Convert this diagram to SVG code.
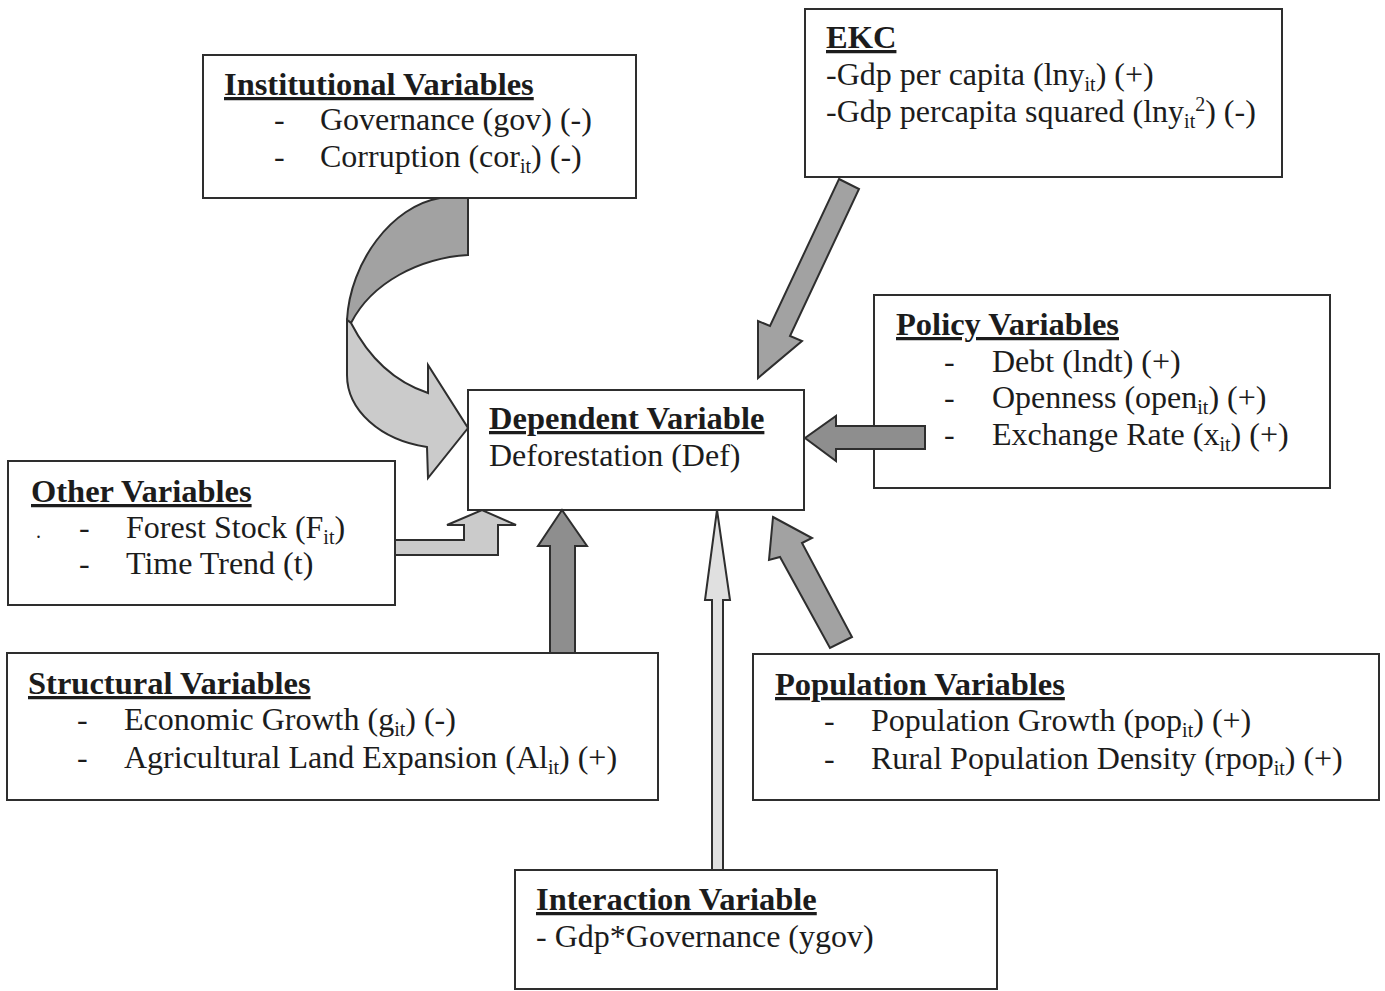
<svg xmlns="http://www.w3.org/2000/svg" width="1385" height="991" viewBox="0 0 1385 991">
<style>
.box{fill:#fff;stroke:#2e2e2e;stroke-width:2}
text{font-family:"Liberation Serif","Times New Roman",serif;font-size:32px;fill:#1c1c1c}
.t{font-weight:bold;text-decoration:underline;font-size:32.5px}
.s{font-size:20px}
.arr{stroke:#2e2e2e;stroke-width:2;stroke-linejoin:miter}
.dk{fill:#8e8e8e}
.md{fill:#a2a2a2}
.lt{fill:#cbcbcb}
.vl{fill:#e0e0e0}
</style>
<rect width="1385" height="991" fill="#fff"/>
<g id="institutional">
<rect class="box" x="203" y="55" width="433" height="143"/>
<text class="t" x="224" y="95">Institutional Variables</text>
<text x="274" y="130">-</text><text x="320" y="130">Governance (gov) (-)</text>
<text x="274" y="167">-</text><text x="320" y="167">Corruption (cor<tspan class="s" dy="6">it</tspan><tspan dy="-6">) (-)</tspan></text>
</g>
<g id="ekc">
<rect class="box" x="805" y="9" width="477" height="168"/>
<text class="t" x="826" y="48">EKC</text>
<text x="826" y="85">-Gdp per capita (lny<tspan class="s" dy="6">it</tspan><tspan dy="-6">) (+)</tspan></text>
<text x="826" y="122">-Gdp percapita squared (lny<tspan class="s" dy="6">it</tspan><tspan class="s" dy="-17">2</tspan><tspan dy="11">) (-)</tspan></text>
</g>
<g id="policy">
<rect class="box" x="874" y="295" width="456" height="193"/>
<text class="t" x="896" y="335">Policy Variables</text>
<text x="944" y="372">-</text><text x="992" y="372">Debt (lndt) (+)</text>
<text x="944" y="408">-</text><text x="992" y="408">Openness (open<tspan class="s" dy="6">it</tspan><tspan dy="-6">) (+)</tspan></text>
<text x="944" y="445">-</text><text x="992" y="445">Exchange Rate (x<tspan class="s" dy="6">it</tspan><tspan dy="-6">) (+)</tspan></text>
</g>
<g id="dependent">
<rect class="box" x="468" y="390" width="336" height="120"/>
<text class="t" x="489" y="429">Dependent Variable</text>
<text x="489" y="466">Deforestation (Def)</text>
</g>
<g id="other">
<rect class="box" x="8" y="461" width="387" height="144"/>
<text class="t" x="31" y="502">Other Variables</text>
<text x="36" y="538" style="font-size:20px">.</text>
<text x="79" y="538">-</text><text x="126" y="538">Forest Stock (F<tspan class="s" dy="6">it</tspan><tspan dy="-6">)</tspan></text>
<text x="79" y="574">-</text><text x="126" y="574">Time Trend (t)</text>
</g>
<g id="structural">
<rect class="box" x="7" y="653" width="651" height="147"/>
<text class="t" x="28" y="694">Structural Variables</text>
<text x="77" y="730">-</text><text x="124" y="730">Economic Growth (g<tspan class="s" dy="6">it</tspan><tspan dy="-6">) (-)</tspan></text>
<text x="77" y="768">-</text><text x="124" y="768">Agricultural Land Expansion (Al<tspan class="s" dy="6">it</tspan><tspan dy="-6">) (+)</tspan></text>
</g>
<g id="population">
<rect class="box" x="753" y="654" width="626" height="146"/>
<text class="t" x="775" y="695">Population Variables</text>
<text x="824" y="731">-</text><text x="871" y="731">Population Growth (pop<tspan class="s" dy="6">it</tspan><tspan dy="-6">) (+)</tspan></text>
<text x="824" y="769">-</text><text x="871" y="769">Rural Population Density (rpop<tspan class="s" dy="6">it</tspan><tspan dy="-6">) (+)</tspan></text>
</g>
<g id="interaction">
<rect class="box" x="515" y="870" width="482" height="119"/>
<text class="t" x="536" y="910">Interaction Variable</text>
<text x="536" y="947">- Gdp*Governance (ygov)</text>
</g>
<g id="connectors">
<path class="arr md" d="M468,198 L468,255 C420,258 372,282 351,323 L347,320 C350,262 392,206 440,198 Z"/>
<path class="arr lt" d="M351,323 C370,360 395,382 428,393 L428,365 L468,428 L428,478 L427,447 C380,440 347,410 347,375 L347,320 Z"/>
<polygon class="arr md" points="839,179 859,189 790,336 802,341 758,378 758,321 770,326"/>
<polygon class="arr dk" points="925,426 925,449 836,449 836,461 805,438 836,416 836,426"/>
<polygon class="arr lt" points="395,540 464,540 464,525 447,525 482,510 516,525 498,525 498,555 395,555"/>
<polygon class="arr dk" points="550,653 550,546 538,546 562,510 587,546 575,546 575,653"/>
<polygon class="arr vl" points="712,870 712,600 705,600 717,510 730,600 723,600 723,870"/>
<polygon class="arr md" points="773,517 812,538 802,543 852,637 830,648 780,557 769,560"/>
</g>
</svg>
